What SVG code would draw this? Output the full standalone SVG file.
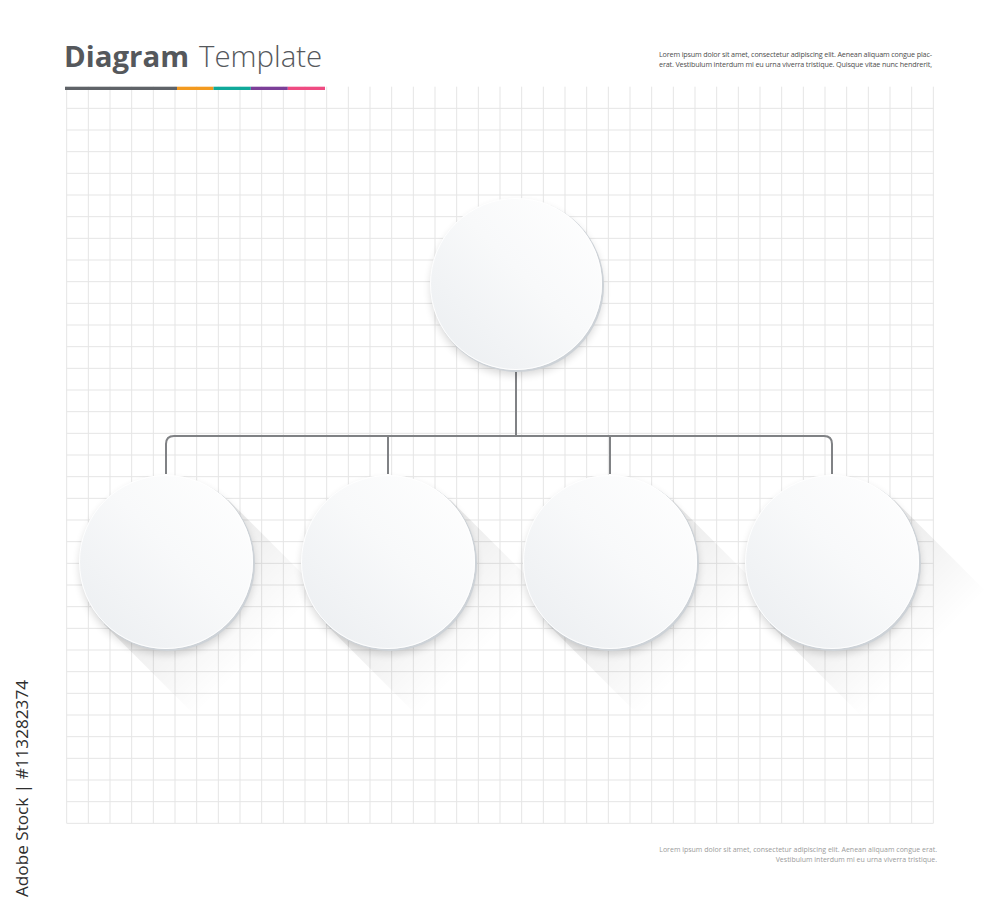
<svg xmlns="http://www.w3.org/2000/svg" width="1000" height="911" viewBox="0 0 1000 911">
<style>
.grid{fill:none;stroke:#e5e5e5;stroke-width:1}
.conn{fill:none;stroke:#808285;stroke-width:2}
.rim{fill:#cdd2d7}
.face{fill:url(#faceGrad)}
.hi{fill:none;stroke:#ffffff;stroke-width:1;opacity:0.9}
.drop{fill:#000;opacity:0.16;filter:url(#blur)}
.long{fill:url(#longGrad)}
.t-bold{font-family:"Open Sans","Liberation Sans",sans-serif;font-weight:700;font-size:29.4px;fill:#55585c}
.t-light{font-family:"Open Sans","Liberation Sans",sans-serif;font-weight:300;font-size:29.4px;fill:#55585c}
.small{font-family:"Open Sans","Liberation Sans",sans-serif;font-size:7.2px;fill:#4d4d4d}
.small2{font-family:"Open Sans","Liberation Sans",sans-serif;font-size:7px;fill:#9b9b9b}
.side{font-family:"Open Sans","Liberation Sans",sans-serif;font-size:16px;fill:#2e2e2e}
</style>
<defs>
<linearGradient id="faceGrad" x1="0" y1="1" x2="1" y2="0">
<stop offset="0" stop-color="#eaedf0"/>
<stop offset="0.55" stop-color="#f8f9fa"/>
<stop offset="1" stop-color="#ffffff"/>
</linearGradient>
<linearGradient id="longGrad" x1="0" y1="0" x2="1" y2="1">
<stop offset="0.29" stop-color="#000" stop-opacity="0.09"/>
<stop offset="0.72" stop-color="#000" stop-opacity="0"/>
</linearGradient>
<filter id="blur" x="-20%" y="-20%" width="140%" height="140%"><feGaussianBlur stdDeviation="4"/></filter>
</defs>
<rect width="1000" height="911" fill="#ffffff"/>

<g id="grid">
<path class="grid" d="M66.67 86.67V823.33M88.33 86.67V823.33M110 86.67V823.33M131.67 86.67V823.33M153.33 86.67V823.33M175 86.67V823.33M196.67 86.67V823.33M218.33 86.67V823.33M240 86.67V823.33M261.67 86.67V823.33M283.33 86.67V823.33M305 86.67V823.33M326.67 86.67V823.33M348.33 86.67V823.33M370 86.67V823.33M391.67 86.67V823.33M413.33 86.67V823.33M435 86.67V823.33M456.67 86.67V823.33M478.33 86.67V823.33M500 86.67V823.33M521.67 86.67V823.33M543.33 86.67V823.33M565 86.67V823.33M586.67 86.67V823.33M608.33 86.67V823.33M630 86.67V823.33M651.67 86.67V823.33M673.33 86.67V823.33M695 86.67V823.33M716.67 86.67V823.33M738.33 86.67V823.33M760 86.67V823.33M781.67 86.67V823.33M803.33 86.67V823.33M825 86.67V823.33M846.67 86.67V823.33M868.33 86.67V823.33M890 86.67V823.33M911.67 86.67V823.33M933.33 86.67V823.33"/>
<path class="grid" d="M66.67 108.33H933.33M66.67 130H933.33M66.67 151.67H933.33M66.67 173.33H933.33M66.67 195H933.33M66.67 216.67H933.33M66.67 238.33H933.33M66.67 260H933.33M66.67 281.67H933.33M66.67 303.33H933.33M66.67 325H933.33M66.67 346.67H933.33M66.67 368.33H933.33M66.67 390H933.33M66.67 411.67H933.33M66.67 433.33H933.33M66.67 455H933.33M66.67 476.67H933.33M66.67 498.33H933.33M66.67 520H933.33M66.67 541.67H933.33M66.67 563.33H933.33M66.67 585H933.33M66.67 606.67H933.33M66.67 628.33H933.33M66.67 650H933.33M66.67 671.67H933.33M66.67 693.33H933.33M66.67 715H933.33M66.67 736.67H933.33M66.67 758.33H933.33M66.67 780H933.33M66.67 801.67H933.33M66.67 823.33H933.33"/>
</g>

<g id="header">
<text class="t-bold" x="64" y="67">Diagram</text>
<text class="t-light" x="199" y="67">Template</text>
<rect x="65" y="86.7" width="112" height="3.3" fill="#5f6368"/>
<rect x="177" y="86.7" width="36.5" height="3.3" fill="#f39a1f"/>
<rect x="213.5" y="86.7" width="37.3" height="3.3" fill="#10a99a"/>
<rect x="250.8" y="86.7" width="37" height="3.3" fill="#7b3f98"/>
<rect x="287.8" y="86.7" width="37.2" height="3.3" fill="#ef4b82"/>
<text class="small" x="659" y="56.5" textLength="273" lengthAdjust="spacing">Lorem ipsum dolor sit amet, consectetur adipiscing elit. Aenean aliquam congue plac-</text>
<text class="small" x="659" y="66.5" textLength="273" lengthAdjust="spacing">erat. Vestibulum interdum mi eu urna viverra tristique. Quisque vitae nunc hendrerit,</text>
</g>

<g id="connectors">
<path class="conn" d="M516 372V436"/>
<path class="conn" d="M166 474V444Q166 436 174 436H824Q832 436 832 444V474"/>
<path class="conn" d="M388 436V474"/>
<path class="conn" d="M610 436V474"/>
</g>

<g id="node-top">
<circle class="drop" cx="517" cy="289" r="86"/>
<circle class="rim" cx="517.5" cy="285.5" r="86.5"/>
<circle class="face" cx="516" cy="284" r="86"/>
<circle class="hi" cx="516" cy="284" r="85.5"/>
</g>

<g id="node-1">
<polygon class="long" points="228.2,499.8 318.2,589.8 193.8,714.2 103.8,624.2"/>
<circle class="drop" cx="167" cy="567" r="87"/>
<circle class="rim" cx="167.5" cy="563.5" r="87.5"/>
<circle class="face" cx="166" cy="562" r="87"/>
<circle class="hi" cx="166" cy="562" r="86.5"/>
</g>

<g id="node-2">
<polygon class="long" points="450.2,499.8 540.2,589.8 415.8,714.2 325.8,624.2"/>
<circle class="drop" cx="389" cy="567" r="87"/>
<circle class="rim" cx="389.5" cy="563.5" r="87.5"/>
<circle class="face" cx="388" cy="562" r="87"/>
<circle class="hi" cx="388" cy="562" r="86.5"/>
</g>

<g id="node-3">
<polygon class="long" points="672.2,499.8 762.2,589.8 637.8,714.2 547.8,624.2"/>
<circle class="drop" cx="611" cy="567" r="87"/>
<circle class="rim" cx="611.5" cy="563.5" r="87.5"/>
<circle class="face" cx="610" cy="562" r="87"/>
<circle class="hi" cx="610" cy="562" r="86.5"/>
</g>

<g id="node-4">
<polygon class="long" points="894.2,499.8 984.2,589.8 859.8,714.2 769.8,624.2"/>
<circle class="drop" cx="833" cy="567" r="87"/>
<circle class="rim" cx="833.5" cy="563.5" r="87.5"/>
<circle class="face" cx="832" cy="562" r="87"/>
<circle class="hi" cx="832" cy="562" r="86.5"/>
</g>

<g id="footer">
<text class="small2" x="937" y="851.5" text-anchor="end">Lorem ipsum dolor sit amet, consectetur adipiscing elit. Aenean aliquam congue erat.</text>
<text class="small2" x="937" y="861.5" text-anchor="end">Vestibulum interdum mi eu urna viverra tristique.</text>
<text class="side" transform="translate(28 897) rotate(-90)" x="0" y="0" textLength="217" lengthAdjust="spacingAndGlyphs">Adobe Stock | #113282374</text>
</g>
</svg>
